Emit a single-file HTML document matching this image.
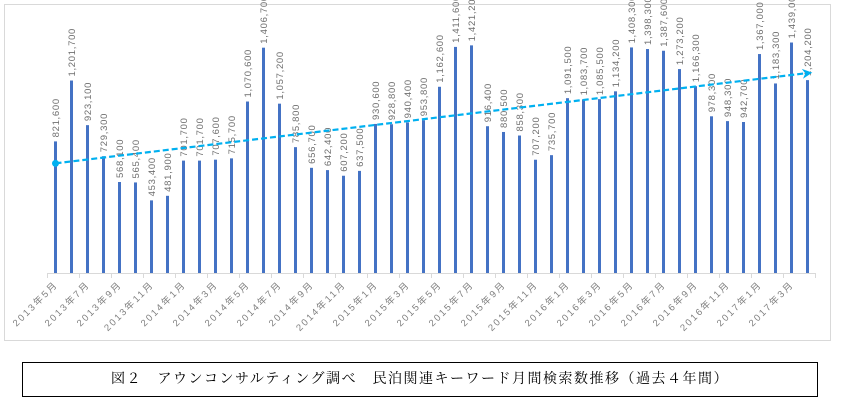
<!DOCTYPE html>
<html><head><meta charset="utf-8"><style>
body{margin:0;background:#fff;width:843px;height:405px;overflow:hidden;font-family:"Liberation Sans","Noto Sans CJK JP",sans-serif}
#chart-frame{position:absolute;left:4px;top:4px;width:827px;height:337px;border:1px solid #d9d9d9;box-sizing:border-box}
#caption{position:absolute;left:22px;top:362px;width:796px;height:35px;border:1px solid #000;box-sizing:border-box;text-align:center;line-height:33px;font-size:14px;font-family:"Liberation Serif","Noto Serif CJK JP",serif;letter-spacing:1.5px}
svg{position:absolute;left:0;top:0}
</style></head><body>
<div id="chart-frame"></div>
<svg id="chart" width="843" height="405"></svg>
<div id="caption">図２　アウンコンサルティング調べ　民泊関連キーワード月間検索数推移（過去４年間）</div>
<script>
const categories=["2013年5月","2013年6月","2013年7月","2013年8月","2013年9月","2013年10月","2013年11月","2013年12月","2014年1月","2014年2月","2014年3月","2014年4月","2014年5月","2014年6月","2014年7月","2014年8月","2014年9月","2014年10月","2014年11月","2014年12月","2015年1月","2015年2月","2015年3月","2015年4月","2015年5月","2015年6月","2015年7月","2015年8月","2015年9月","2015年10月","2015年11月","2015年12月","2016年1月","2016年2月","2016年3月","2016年4月","2016年5月","2016年6月","2016年7月","2016年8月","2016年9月","2016年10月","2016年11月","2016年12月","2017年1月","2017年2月","2017年3月","2017年4月"];
const values=[821600,1201700,923100,729300,568100,565400,453400,481900,701700,701700,707600,715700,1070600,1406700,1057200,785800,656700,642400,607200,637500,930600,928800,940400,953800,1162600,1411600,1421200,916400,880500,858300,707200,735700,1091500,1083700,1085500,1134200,1408300,1398300,1387600,1273200,1166300,978300,948300,942700,1367000,1183300,1439000,1204200];
const NS="http://www.w3.org/2000/svg";
const svg=document.getElementById('chart');
const x0=55.5,step=16.0,base=273,k=1.6017e-4;
function xPos(i){return x0+i*step;}
function yPos(v){return base-v*k;}
function mk(t,a){const e=document.createElementNS(NS,t);for(const n in a)e.setAttribute(n,a[n]);svg.appendChild(e);return e;}
const ax=mk('line',{x1:47.5,x2:xPos(categories.length-1)+8,y1:base+0.5,y2:base+0.5,stroke:'#d9d9d9','stroke-width':1});


for(let i=0;i<=categories.length;i+=2){
  const t=mk('line',{x1:xPos(i)-8,x2:xPos(i)-8,y1:base,y2:base+5,stroke:'#d9d9d9'});
  
  
}
values.forEach((v,i)=>{
  const x=xPos(i),y=yPos(v);
  const r=mk('rect',{x:x-1.5,y:y,width:3,height:base-y,fill:'#4472c4'});
  
  
  const t=mk('text',{x:0,y:0,transform:`translate(${x+3.5},${y-4}) rotate(-90)`,'font-size':9.5,fill:'#6f6f6f','letter-spacing':'0.7'});
  t.textContent=v.toLocaleString('en-US');
  
  
  if(i%2===0){
    const l=mk('text',{x:0,y:0,transform:`translate(${x+3},${base+12}) rotate(-45)`,'font-size':9.5,fill:'#7f7f7f','text-anchor':'end','letter-spacing':'2'});
    l.textContent=categories[i];
    
    
  }
});
// linear trendline
const n=values.length;let sx=0,sy=0,sxy=0,sxx=0;
values.forEach((v,i)=>{sx+=i;sy+=v;sxy+=i*v;sxx+=i*i;});
const b=(n*sxy-sx*sy)/(n*sxx-sx*sx),a=(sy-b*sx)/n;
const xe=n-1+0.3;
const tl=mk('line',{x1:xPos(0),y1:yPos(a),x2:xPos(xe)-6,y2:yPos(a+b*xe)+0.6,stroke:'#00b0f0','stroke-width':2.2,'stroke-dasharray':'6,3'});


const dot=mk('circle',{cx:xPos(0),cy:yPos(a),r:3.5,fill:'#00b0f0'});


const ex=xPos(xe),ey=yPos(a+b*xe);
const ang=Math.atan2(yPos(a+b*xe)-yPos(a),xPos(xe)-xPos(0));
const p1=[ex-10*Math.cos(ang)+5*Math.sin(ang),ey-10*Math.sin(ang)-5*Math.cos(ang)];
const p2=[ex-10*Math.cos(ang)-5*Math.sin(ang),ey-10*Math.sin(ang)+5*Math.cos(ang)];
const ar=mk('polygon',{points:`${ex},${ey} ${p1} ${ex-7*Math.cos(ang)},${ey-7*Math.sin(ang)} ${p2}`,fill:'#00b0f0'});


</script>
</body></html>
